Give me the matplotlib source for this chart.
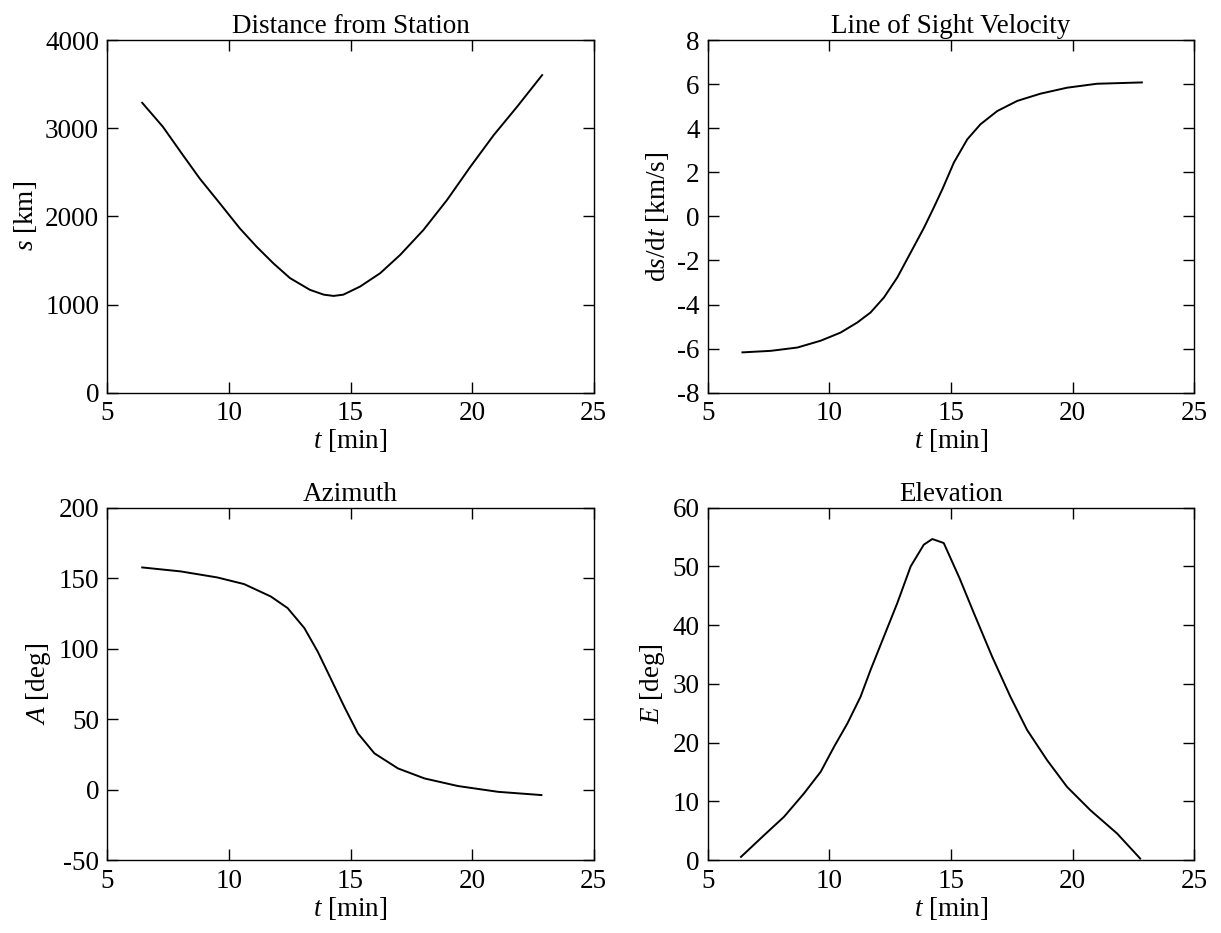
import numpy as np
import matplotlib
matplotlib.use("Agg")
import matplotlib.pyplot as plt

plt.rcParams['font.family'] = ['Liberation Serif', 'DejaVu Serif']
plt.rcParams['mathtext.fontset'] = 'custom'
plt.rcParams['mathtext.rm'] = 'Liberation Serif'
plt.rcParams['mathtext.it'] = 'Liberation Serif:italic'
plt.rcParams['axes.unicode_minus'] = False

# distance from station
t_s = [6.43, 7.28, 8.10, 8.79, 9.62, 10.44, 11.13, 11.82, 12.51, 13.33, 13.9, 14.3,
       14.7, 15.39, 16.22, 17.04, 18.0, 18.97, 19.93, 20.89, 21.85, 22.88]
s = [3289, 3017, 2697, 2432, 2149, 1866, 1658, 1469, 1300, 1167, 1112, 1098,
     1112, 1204, 1356, 1563, 1847, 2187, 2564, 2923, 3244, 3603]

# line of sight velocity
t_v = [6.42, 7.59, 8.68, 9.64, 10.46, 11.15, 11.69, 12.24, 12.79, 13.34, 13.89,
       14.29, 14.65, 15.12, 15.67, 16.21, 16.90, 17.72, 18.68, 19.77, 21.0, 22.85]
v = [-6.17, -6.10, -5.95, -5.64, -5.27, -4.81, -4.36, -3.68, -2.77, -1.64, -0.51,
     0.40, 1.25, 2.45, 3.50, 4.18, 4.78, 5.24, 5.57, 5.84, 6.02, 6.08]

# azimuth
t_a = [6.43, 8.01, 9.52, 10.62, 11.72, 12.41, 13.10, 13.65, 14.18, 14.74, 15.30,
       15.98, 16.95, 18.04, 19.42, 21.07, 22.85]
az = [157.6, 154.8, 150.5, 145.8, 137.0, 128.8, 114.6, 97.9, 79.0, 58.9, 40.0,
      25.8, 15.1, 8.0, 2.6, -1.5, -3.8]

# elevation
t_e = [6.36, 7.31, 8.13, 8.95, 9.64, 10.19, 10.74, 11.28, 11.69, 12.24, 12.79,
       13.34, 13.88, 14.23, 14.70, 15.35, 15.94, 16.69, 17.44, 18.13, 18.95,
       19.77, 20.73, 21.83, 22.78]
el = [0.57, 4.26, 7.39, 11.36, 15.06, 19.32, 23.30, 27.84, 32.38, 38.07, 43.76,
      50.0, 53.7, 54.66, 53.98, 48.0, 42.05, 34.65, 27.84, 22.16, 17.04,
      12.49, 8.52, 4.55, 0.29]

panels = [
    (t_s, s, 'Distance from Station', '$s$ [km]', (0, 4000), np.arange(0, 4001, 1000)),
    (t_v, v, 'Line of Sight Velocity', 'd$s$/d$t$ [km/s]', (-8, 8), np.arange(-8, 9, 2)),
    (t_a, az, 'Azimuth', '$A$ [deg]', (-50, 200), np.arange(-50, 201, 50)),
    (t_e, el, 'Elevation', '$E$ [deg]', (0, 60), np.arange(0, 61, 10)),
]

fig, axes = plt.subplots(2, 2, figsize=(12.21, 9.33), dpi=100)
fig.subplots_adjust(left=0.088, right=0.978, top=0.957, bottom=0.078,
                    wspace=0.235, hspace=0.326)

for ax, (tt, yy, title, ylab, ylim, yt) in zip(axes.flat, panels):
    ax.plot(tt, yy, color='black', lw=1.4, solid_joinstyle='round')
    ax.set_xlim(5, 25)
    ax.set_ylim(*ylim)
    ax.set_xticks([5, 10, 15, 20, 25])
    ax.set_yticks(yt)
    ax.set_title(title, fontsize=19.5, pad=5)
    ax.set_ylabel(ylab, fontsize=19.5, labelpad=4)
    ax.set_xlabel('$t$ [min]', fontsize=19.5, labelpad=1)
    ax.tick_params(direction='in', top=True, right=True, length=8, width=1,
                   labelsize=19.5, pad=6)
    for sp in ax.spines.values():
        sp.set_linewidth(1.0)

fig.savefig('out.png', dpi=100)
